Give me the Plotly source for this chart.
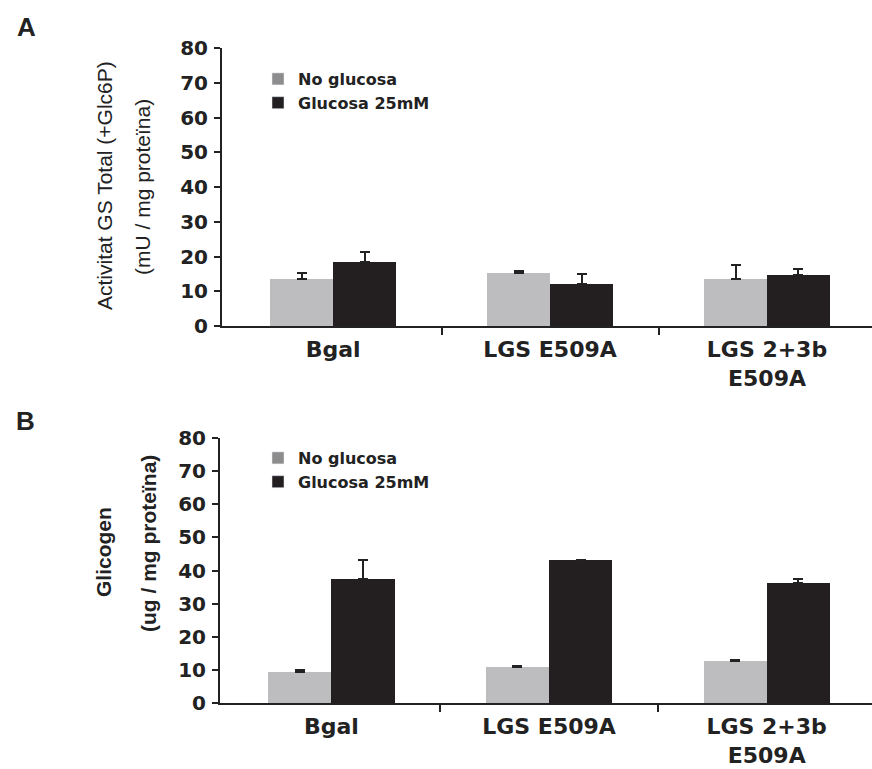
import plotly.graph_objects as go

# ---------------- data ----------------
categories = ["Bgal", "LGS E509A", "LGS 2+3b<br>E509A"]
series_names = ["No glucosa", "Glucosa 25mM"]

gs_no_glucose = [13.5, 15.2, 13.4]
gs_no_glucose_err = [1.7, 0.6, 4.1]
gs_glucose = [18.4, 12.1, 14.6]
gs_glucose_err = [2.9, 2.9, 1.7]

gly_no_glucose = [9.4, 10.9, 12.7]
gly_no_glucose_err = [0.5, 0.3, 0.4]
gly_glucose = [37.3, 43.3, 36.3]
gly_glucose_err = [5.8, 0.0, 1.0]

y_ticks = [0, 10, 20, 30, 40, 50, 60, 70, 80]

# ---------------- style ----------------
W, H = 872, 769
GRAY = "#bdbdbf"
BLACK = "#231f20"
LEG_GRAY = "#8c8c8c"
INK = "#222222"
BAR_W = 0.29
x_pos = list(range(len(categories)))

fig = go.Figure()


def add_panel(xa, ya, no_vals, no_err, glc_vals, glc_err, legend):
    fig.add_trace(go.Bar(
        x=x_pos, y=no_vals, width=BAR_W, offset=-BAR_W,
        marker=dict(color=GRAY, line=dict(width=0)),
        error_y=dict(type="data", array=no_err, arrayminus=[0] * len(no_err),
                     symmetric=False, color=INK, thickness=2, width=5),
        xaxis=xa, yaxis=ya, showlegend=False, name=series_names[0]))
    fig.add_trace(go.Bar(
        x=x_pos, y=glc_vals, width=BAR_W, offset=0,
        marker=dict(color=BLACK, line=dict(width=0)),
        error_y=dict(type="data", array=glc_err, arrayminus=[0] * len(glc_err),
                     symmetric=False, color=INK, thickness=2, width=5),
        xaxis=xa, yaxis=ya, showlegend=False, name=series_names[1]))
    # legend swatches
    for nm, col in zip(series_names, [LEG_GRAY, BLACK]):
        fig.add_trace(go.Bar(x=[None], y=[None], name=nm, marker=dict(color=col),
                             xaxis=xa, yaxis=ya, legend=legend, showlegend=True))


add_panel("x", "y", gs_no_glucose, gs_no_glucose_err, gs_glucose, gs_glucose_err, "legend")
add_panel("x2", "y2", gly_no_glucose, gly_no_glucose_err, gly_glucose, gly_glucose_err, "legend2")

tickfont_x = dict(family="DejaVu Sans", size=22, color=INK, weight="bold")
tickfont_y = dict(family="DejaVu Sans", size=20, color=INK, weight="bold")


def xaxis_cfg(left_px, anchor):
    return dict(
        domain=[left_px / W, 1.0], anchor=anchor, automargin=False,
        range=[-0.512, 2.484],
        tickmode="array", tickvals=x_pos, ticktext=categories,
        ticks="", ticklabelstandoff=3,
        tickfont=tickfont_x,
        showline=True, linecolor=INK, linewidth=2,
        showgrid=False, zeroline=False,
        minor=dict(tickmode="array", tickvals=[0.5, 1.5], ticks="outside",
                   ticklen=7, tickwidth=2, tickcolor=INK, showgrid=False),
        fixedrange=True,
    )


def yaxis_cfg(bottom_px, top_px, anchor):
    return dict(
        domain=[1 - bottom_px / H, 1 - top_px / H], anchor=anchor, automargin=False,
        range=[0, 80], tickmode="array", tickvals=y_ticks,
        ticks="outside", ticklen=6, tickwidth=2, tickcolor=INK,
        tickfont=tickfont_y, ticklabelstandoff=2,
        showline=True, linecolor=INK, linewidth=2,
        showgrid=False, zeroline=False, fixedrange=True,
    )


legend_font = dict(family="DejaVu Sans", size=16, color=INK, weight="bold")

fig.update_layout(
    width=W, height=H, autosize=False,
    margin=dict(l=0, r=0, t=0, b=0, autoexpand=False),
    paper_bgcolor="white", plot_bgcolor="white",
    barmode="overlay", bargap=0,
    xaxis=xaxis_cfg(222, "y"),
    yaxis=yaxis_cfg(326, 48, "x"),
    xaxis2=xaxis_cfg(220, "y2"),
    yaxis2=yaxis_cfg(703, 438, "x2"),
    legend=dict(x=258 / W, y=1 - 62 / H, xanchor="left", yanchor="top",
                font=legend_font, bgcolor="rgba(0,0,0,0)", tracegroupgap=0,
                itemclick=False),
    legend2=dict(x=258 / W, y=1 - 441 / H, xanchor="left", yanchor="top",
                 font=legend_font, bgcolor="rgba(0,0,0,0)", tracegroupgap=0,
                 itemclick=False),
    showlegend=True,
)

title_font = dict(family="Liberation Sans, Arial, sans-serif", size=21, color=INK)
title_font_b = dict(family="Liberation Sans, Arial, sans-serif", size=21, color=INK, weight="bold")

annots = [
    dict(text="A", x=26, y=27, font=dict(family="Liberation Sans", size=26, color=INK, weight="bold"), textangle=0),
    dict(text="B", x=25, y=421, font=dict(family="Liberation Sans", size=26, color=INK, weight="bold"), textangle=0),
    dict(text="Activitat GS Total (+Glc6P)", x=104, y=186, font=title_font, textangle=-90),
    dict(text="(mU / mg proteïna)", x=143, y=187, font=title_font, textangle=-90),
    dict(text="Glicogen", x=103, y=552, font=title_font_b, textangle=-90),
    dict(text="(ug / mg proteïna)", x=148, y=544, font=title_font_b, textangle=-90),
]
for a in annots:
    fig.add_annotation(text=a["text"], x=a["x"] / W, y=1 - a["y"] / H,
                       xref="paper", yref="paper", xanchor="center", yanchor="middle",
                       showarrow=False, font=a["font"], textangle=a["textangle"])

fig.write_html("out.html")
